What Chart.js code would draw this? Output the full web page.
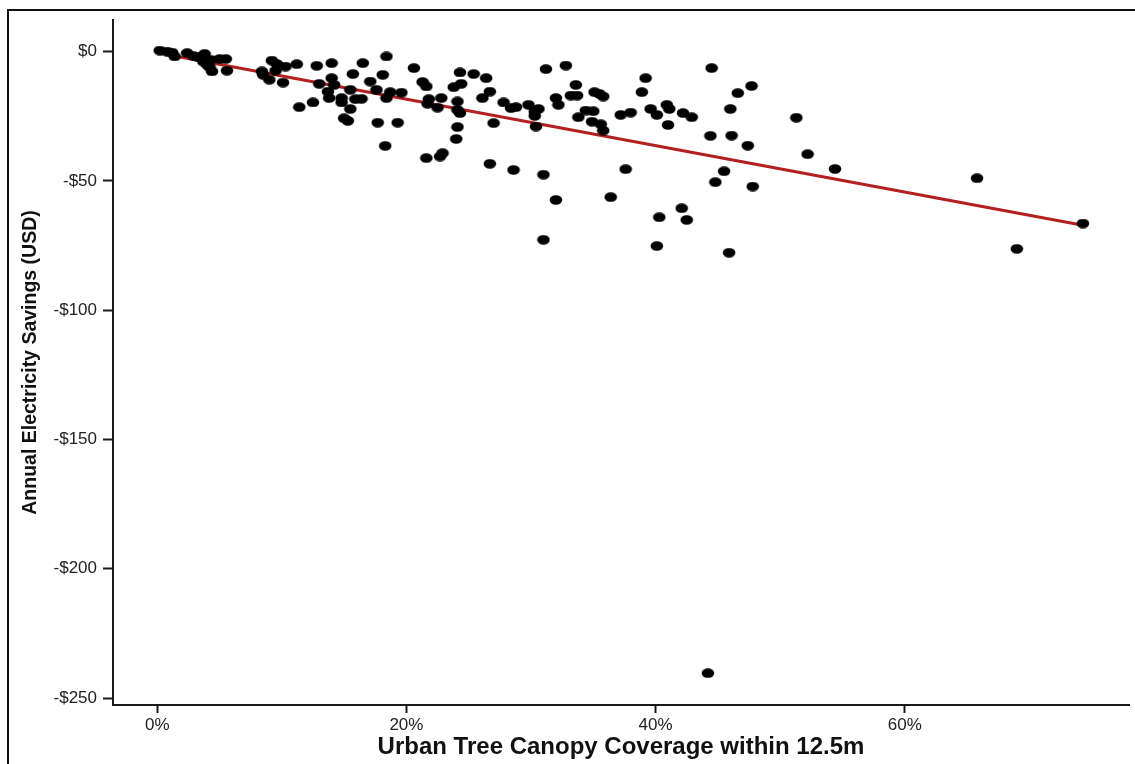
<!DOCTYPE html>
<html>
<head>
<meta charset="utf-8">
<script src="https://cdn.jsdelivr.net/npm/chart.js@4"></script>
<style>
  html, body { margin: 0; padding: 0; background: #fff; overflow: hidden; }
  #frame { position: absolute; left: 7px; top: 9px; width: 1200px; height: 800px;
           border-left: 2px solid #111; border-top: 2px solid #111; }
  #chart { position: absolute; left: 0; top: 0; }
</style>
</head>
<body>
<div id="frame"></div>
<canvas id="chart" width="1135" height="764"></canvas>
<script>
// canopy coverage (%) per household
const canopyPct = [
    0.2, 0.8, 1.2, 1.4, 2.4, 2.9, 3.3, 3.8, 3.7, 4.0, 4.3, 4.4, 4.2, 5.0, 5.5, 5.6,
    8.4, 8.5, 9.2, 9.0, 9.6, 9.5, 10.3, 10.1, 11.2, 11.4, 12.5, 12.8, 13.0, 14.0, 14.0, 14.2,
    13.7, 13.8, 14.8, 14.8, 15.5, 15.0, 15.3, 15.7, 15.5, 15.9, 16.4, 16.5, 17.1, 17.6, 17.7, 18.4,
    18.1, 18.7, 18.4, 19.3, 18.3, 19.6, 20.6, 21.3, 21.6, 21.8, 21.7, 22.5, 22.8, 21.6, 22.9, 22.7,
    24.3, 24.4, 23.8, 24.1, 24.1, 24.3, 24.1, 24.0, 25.4, 26.4, 26.7, 26.1, 27.0, 27.8, 28.4, 28.8,
    29.8, 30.3, 30.6, 30.3, 30.4, 31.2, 32.8, 32.0, 32.2, 33.6, 33.2, 33.7, 33.8, 34.4, 35.0, 34.9,
    35.1, 35.5, 35.8, 35.6, 35.8, 37.2, 38.0, 39.2, 38.9, 39.6, 40.1, 40.9, 41.1, 41.0, 42.2, 42.9,
    44.5, 44.4, 46.6, 47.7, 46.0, 46.1, 47.4, 51.3, 52.2, 26.7, 28.6, 31.0, 32.0, 31.0, 37.6, 36.4,
    40.3, 42.1, 42.5, 40.1, 45.9, 45.5, 44.8, 47.8, 54.4, 65.8, 74.3, 69.0, 44.2
];
// annual electricity savings (USD)
const savingsUsd = [
    0.4, 0.0, -0.4, -1.9, -0.6, -1.7, -2.2, -0.9, -3.9, -5.1, -3.2, -7.7, -6.0, -2.9, -2.9, -7.4,
    -7.7, -9.0, -3.5, -10.9, -4.8, -7.4, -5.8, -12.0, -4.9, -21.5, -19.7, -5.5, -12.5, -4.5, -10.3, -12.9,
    -15.5, -18.0, -18.0, -19.7, -22.2, -25.8, -26.8, -8.7, -14.8, -18.4, -18.3, -4.5, -11.6, -14.8, -27.5, -1.9,
    -9.0, -15.7, -18.0, -27.5, -36.5, -15.9, -6.4, -11.8, -13.5, -18.4, -20.2, -21.7, -18.0, -41.2, -39.3, -40.6,
    -8.1, -12.5, -13.8, -19.3, -22.6, -23.8, -29.2, -33.8, -8.7, -10.3, -15.5, -18.0, -27.7, -19.7, -21.9, -21.5,
    -20.6, -23.2, -22.2, -24.9, -29.0, -6.8, -5.4, -18.0, -20.6, -12.9, -17.0, -17.0, -25.4, -22.8, -23.1, -27.1,
    -15.7, -16.4, -17.4, -28.1, -30.6, -24.5, -23.6, -10.3, -15.7, -22.2, -24.5, -20.6, -22.2, -28.4, -23.8, -25.4,
    -6.4, -32.6, -16.1, -13.3, -22.2, -32.5, -36.4, -25.6, -39.7, -43.4, -45.8, -47.6, -57.4, -72.8, -45.5, -56.3,
    -64.1, -60.6, -65.1, -75.2, -77.8, -46.3, -50.5, -52.2, -45.4, -49.0, -66.5, -76.3, -240.4
];
// fitted trend line end points
const fitX = [0, 74.3];
const fitY = [-0.5, -67.2];

const yTicks = [0, -50, -100, -150, -200, -250];
const xTicks = [0, 20, 40, 60];

const points = canopyPct.map((x, i) => ({ x: x, y: savingsUsd[i] }));
const fitLine = fitX.map((x, i) => ({ x: x, y: fitY[i] }));

// markers in the original are slightly wider than tall
function makeDot() {
    const c = document.createElement('canvas');
    c.width = 14;
    c.height = 10;
    const g = c.getContext('2d');
    g.fillStyle = '#000';
    g.beginPath();
    g.ellipse(7, 5, 6.3, 4.8, 0, 0, Math.PI * 2);
    g.fill();
    return c;
}

const axisColor = '#1a1a1a';
const tickFont = { family: "'Liberation Sans', Arial, sans-serif", size: 17, lineHeight: 1.2 };

new Chart(document.getElementById('chart').getContext('2d'), {
    type: 'scatter',
    data: {
        datasets: [
            {
                label: 'Households',
                data: points,
                pointStyle: makeDot(),
                backgroundColor: '#000',
                borderColor: '#000',
                pointRadius: 5,
                pointHoverRadius: 5,
                order: 1
            },
            {
                type: 'line',
                label: 'Fit',
                data: fitLine,
                borderColor: '#b3201f',
                borderWidth: 3,
                pointRadius: 0,
                fill: false,
                order: 2
            }
        ]
    },
    options: {
        responsive: false,
        animation: false,
        layout: { padding: { left: 0, top: 20, right: 5, bottom: 0 } },
        plugins: { legend: { display: false }, tooltip: { enabled: false } },
        scales: {
            x: {
                type: 'linear',
                min: -3.55,
                max: 78,
                afterBuildTicks: scale => { scale.ticks = xTicks.map(v => ({ value: v })); },
                afterFit: scale => { scale.height = 59; },
                border: { display: true, color: axisColor, width: 2 },
                grid: { drawOnChartArea: false, drawTicks: true, tickLength: 8, tickColor: axisColor, tickWidth: 2 },
                ticks: {
                    color: '#222',
                    font: tickFont,
                    padding: 2,
                    maxRotation: 0,
                    callback: v => v + '%'
                },
                title: {
                    display: true,
                    text: 'Urban Tree Canopy Coverage within 12.5m',
                    color: '#111',
                    font: { family: "'Liberation Sans', Arial, sans-serif", size: 24, weight: 'bold', lineHeight: 1.2 },
                    padding: { top: 0, bottom: 2 }
                }
            },
            y: {
                type: 'linear',
                min: -252.7,
                max: 12.2,
                afterBuildTicks: scale => { scale.ticks = yTicks.map(v => ({ value: v })); },
                afterFit: scale => { scale.width = 113; },
                border: { display: true, color: axisColor, width: 2 },
                grid: { drawOnChartArea: false, drawTicks: true, tickLength: 10, tickColor: axisColor, tickWidth: 2 },
                ticks: {
                    color: '#222',
                    font: tickFont,
                    padding: 6,
                    callback: v => (v < 0 ? '-$' + Math.abs(v) : '$' + v)
                },
                title: {
                    display: true,
                    text: 'Annual Electricity Savings (USD)',
                    color: '#111',
                    font: { family: "'Liberation Sans', Arial, sans-serif", size: 19.5, weight: 'bold', lineHeight: 1.2 },
                    padding: { top: 19, bottom: 0 }
                }
            }
        }
    }
});
</script>
</body>
</html>
